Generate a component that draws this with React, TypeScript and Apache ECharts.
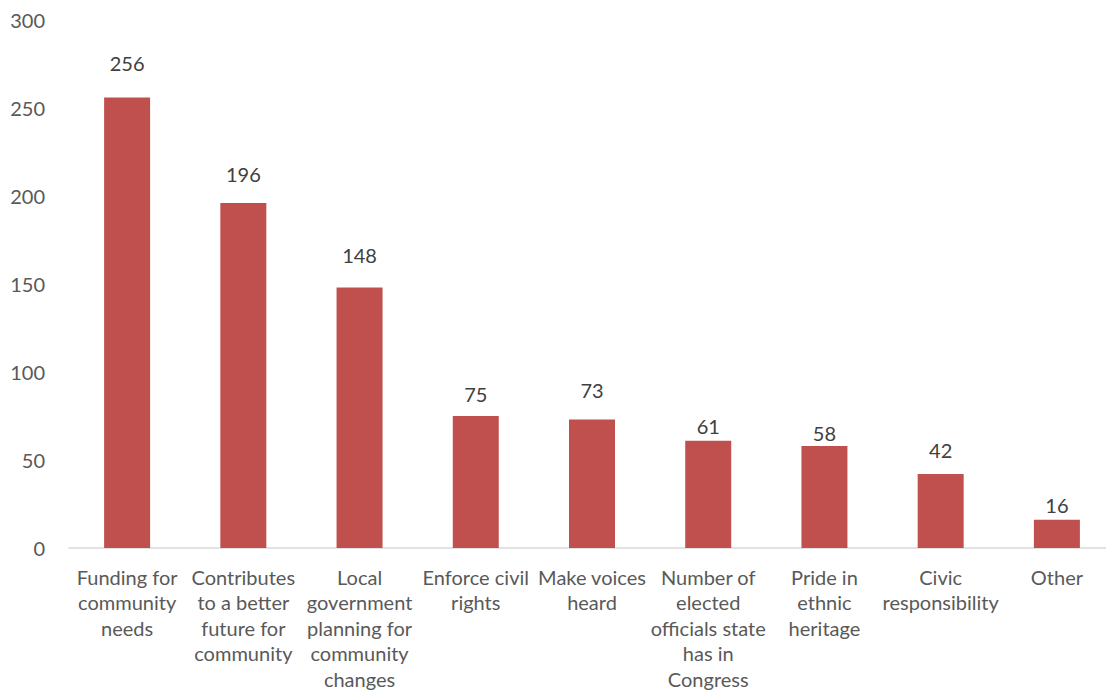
import React, { useEffect, useRef } from "react";
import * as echarts from "echarts";

const categories = [
  "Funding for\ncommunity\nneeds",
  "Contributes\nto a better\nfuture for\ncommunity",
  "Local\ngovernment\nplanning for\ncommunity\nchanges",
  "Enforce civil\nrights",
  "Make voices\nheard",
  "Number of\nelected\nofficials state\nhas in\nCongress",
  "Pride in\nethnic\nheritage",
  "Civic\nresponsibility",
  "Other",
];
const values = [256, 196, 148, 75, 73, 61, 58, 42, 16];
const yTicks = [0, 50, 100, 150, 200, 250, 300];

// label distance above bar tops (styling, mimics the original placement)
const labelDistances = [24, 19, 23, 12, 20, 5, 3, 14, 5];

const FONT = "Lato";

export default function App() {
  const ref = useRef<HTMLDivElement>(null);
  useEffect(() => {
    if (!ref.current) return;
    const chart = echarts.init(ref.current, undefined, { renderer: "svg" });
    chart.setOption({
      animation: false,
      grid: { left: 69, right: 0, top: 20, bottom: 144, containLabel: false },
      xAxis: {
        type: "category",
        data: categories,
        axisLine: { show: true, lineStyle: { color: "#d9d9d9", width: 1.5 } },
        axisTick: { show: false },
        axisLabel: {
          interval: 0,
          color: "#595959",
          fontFamily: FONT,
          fontSize: 20,
          lineHeight: 25.5,
          margin: 16,
        },
      },
      yAxis: {
        type: "value",
        min: yTicks[0],
        max: yTicks[yTicks.length - 1],
        interval: 50,
        splitLine: { show: false },
        axisLine: { show: false },
        axisTick: { show: false },
        axisLabel: {
          color: "#595959",
          fontFamily: FONT,
          fontSize: 20,
          margin: 24,
        },
      },
      series: [
        {
          type: "bar",
          barWidth: 46,
          data: values.map((v, i) => ({
            value: v,
            label: { distance: labelDistances[i] },
          })),
          itemStyle: { color: "#C0504D" },
          label: {
            show: true,
            position: "top",
            color: "#404040",
            fontFamily: FONT,
            fontSize: 20,
          },
        },
      ],
    });
    return () => chart.dispose();
  }, []);
  return (
    <div
      style={{
        position: "fixed",
        left: 0,
        top: 0,
        width: 1106,
        height: 692,
        overflow: "hidden",
        background: "#fff",
      }}
    >
      <div ref={ref} style={{ width: 1115, height: 692 }} />
    </div>
  );
}
